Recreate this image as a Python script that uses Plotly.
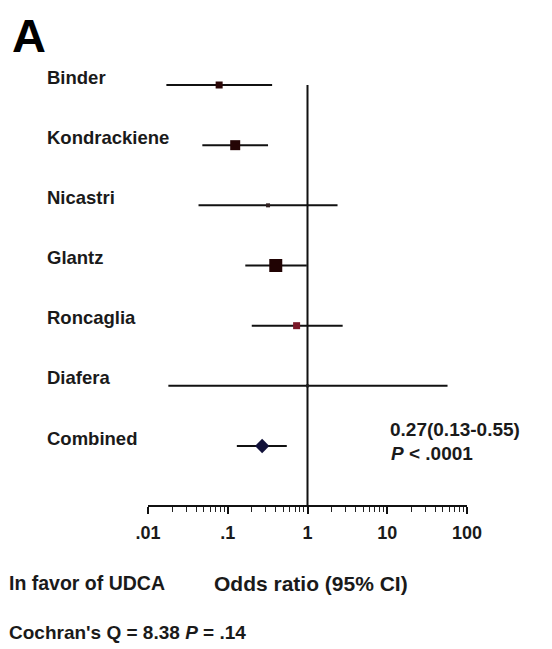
import plotly.graph_objects as go

studies = ["Binder", "Kondrackiene", "Nicastri", "Glantz", "Roncaglia", "Diafera", "Combined"]
odds_ratio = [0.078, 0.124, 0.32, 0.40, 0.73, 1.0, 0.27]
ci_low = [0.017, 0.048, 0.043, 0.166, 0.20, 0.018, 0.13]
ci_high = [0.36, 0.32, 2.38, 0.98, 2.76, 57.0, 0.55]
marker_sizes = [7, 10, 4, 13, 7, 3, 11]
marker_symbols = ["square"] * 6 + ["diamond"]
marker_colors = ["#2a0606", "#240404", "#302020", "#200303", "#7a1828", "#202020", "#12123a"]

tick_vals = [0.01, 0.1, 1, 10, 100]
tick_text = [".01", ".1", "1", "10", "100"]
minor_vals = [m * d for d in [0.01, 0.1, 1, 10] for m in range(2, 10)]

OFF = 8  # default page body margin
W, H = 552 - OFF, 649 - OFF
# page-pixel geometry of the plot area
PL, PR, PT, PB = 148, 467, 60, 505
L, T = PL - OFF, PT - OFF
R = W - (PR - OFF)
B = H - (PB - OFF)
PW, PH = PR - PL, PB - PT


def px(x):
    return (x - PL) / PW


def py(y):
    return (PB - y) / PH


FONT = "Liberation Sans, Arial, sans-serif"
ROW0, ROWSTEP = 85, 60.17
y_bottom = (PB - ROW0) / ROWSTEP
y_top = (PT - ROW0) / ROWSTEP

fig = go.Figure()
for i, name in enumerate(studies):
    fig.add_trace(go.Scatter(
        x=[odds_ratio[i]], y=[i], mode="markers",
        marker=dict(symbol=marker_symbols[i], size=marker_sizes[i], color=marker_colors[i],
                    line=dict(width=0)),
        error_x=dict(type="data", symmetric=False,
                     array=[ci_high[i] - odds_ratio[i]],
                     arrayminus=[odds_ratio[i] - ci_low[i]],
                     width=0, thickness=2, color="#111111"),
        showlegend=False, hoverinfo="skip",
    ))

fig.add_shape(type="line", xref="x", yref="y", x0=1, x1=1, y0=0, y1=y_bottom,
              line=dict(color="#111111", width=2), layer="below")

annotations = []
for i, name in enumerate(studies):
    annotations.append(dict(text=name, xref="paper", yref="y", x=px(45), y=i,
                            xanchor="left", yanchor="middle", yshift=8, showarrow=False,
                            font=dict(family=FONT, size=18.5, color="#1a1a1a", weight="bold")))

# panel letter, anchored to the top edge of the figure so it is not clipped
annotations.append(dict(text="A", xref="paper", yref="paper", x=px(11), y=py(OFF),
                        xanchor="left", yanchor="top", showarrow=False, borderpad=0,
                        font=dict(family=FONT, size=47, color="#000000", weight="bold")))

texts = [
    ("0.27(0.13-0.55)", 388, 429, 19),
    ("<i>P</i> < .0001", 389, 453, 19),
    ("In favor of UDCA", 7, 583, 19.5),
    ("Odds ratio (95% CI)", 212, 583, 21),
    ("Cochran's Q = 8.38 <i>P</i> = .14", 7, 632, 19),
]
for t, x, y, s in texts:
    annotations.append(dict(text=t, xref="paper", yref="paper", x=px(x), y=py(y),
                            xanchor="left", yanchor="middle", showarrow=False,
                            font=dict(family=FONT, size=s, color="#1a1a1a", weight="bold")))

fig.update_layout(
    width=W, height=H,
    margin=dict(l=L, r=R, t=T, b=B),
    paper_bgcolor="white", plot_bgcolor="white",
    annotations=annotations,
    xaxis=dict(type="log", range=[-2, 2], showgrid=False, zeroline=False,
               showline=True, linewidth=2, linecolor="#111111",
               tickmode="array", tickvals=tick_vals, ticktext=tick_text,
               ticks="outside", ticklen=7, tickwidth=1.5, tickcolor="#111111",
               minor=dict(tickmode="array", tickvals=minor_vals, ticks="outside",
                          ticklen=5, tickwidth=1.2, tickcolor="#222222", showgrid=False),
               tickfont=dict(family=FONT, size=18, color="#1a1a1a", weight="bold"),
               ticklabelstandoff=3),
    yaxis=dict(range=[y_bottom, y_top], visible=False, showgrid=False, zeroline=False),
)

fig.write_html("out.html")
